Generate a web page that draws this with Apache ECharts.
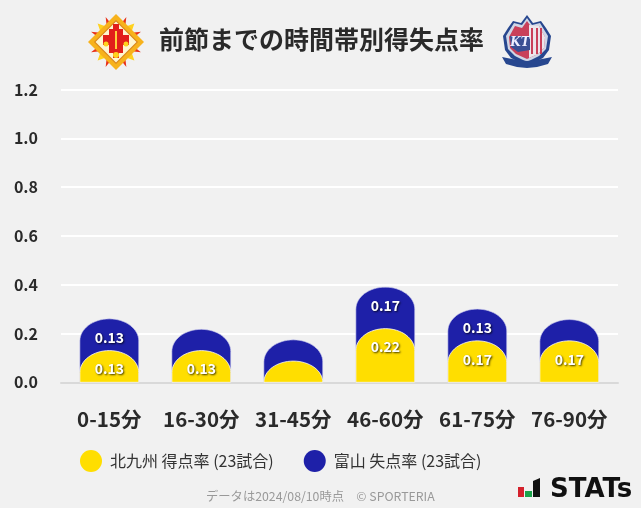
<!DOCTYPE html>
<html><head><meta charset="utf-8">
<style>html,body{margin:0;padding:0;background:#f1f1f1}#c{width:641px;height:508px}</style>
<script src="https://cdn.jsdelivr.net/npm/echarts@6/dist/echarts.min.js"></script>
</head><body><div id="c"></div>
<script>
const categories = ['0-15分','16-30分','31-45分','46-60分','61-75分','76-90分'];
const scoreRate = [0.13,0.13,0.087,0.22,0.17,0.17];
const concedeRate = [0.13,0.087,0.087,0.17,0.13,0.087];
const scoreName = '北九州 得点率 (23試合)';
const concedeName = '富山 失点率 (23試合)';
const titleText = '前節までの時間帯別得失点率';
const footerText = 'データは2024/08/10時点　© SPORTERIA';
const FONT = '"Noto Sans CJK JP","Noto Sans",sans-serif';
const YELLOW = '#ffde00', BLUE = '#1e20a8';

function barRender(labelMin, halo){
  return function(params, api){
    const cx = api.coord([api.value(0),0])[0];
    const top = api.coord([api.value(0),api.value(1)])[1];
    const base = api.coord([api.value(0),0])[1];
    const hw = api.size([1,0])[0]*0.32;
    const ry = Math.min(22, base-top);
    const pts = [[cx-hw,base]];
    for(let k=0;k<=32;k++){
      const a = Math.PI - Math.PI*k/32;
      pts.push([cx+hw*Math.cos(a), top+ry-ry*Math.sin(a)]);
    }
    pts.push([cx+hw,base]);
    const v = api.value(2);
    const children = [{type:'polygon',shape:{points:pts},style:{fill:api.visual('color'),stroke:halo,lineWidth:1}}];
    if(v>=labelMin){
      children.push({type:'text',style:{text:v.toFixed(2),x:cx,y:top+18.5,align:'center',verticalAlign:'middle',
        fill:'#fff',font:'700 14px '+FONT,textShadowColor:'rgba(0,0,0,0.75)',textShadowBlur:2,textShadowOffsetX:1,textShadowOffsetY:1},z2:5});
    }
    return {type:'group',children};
  };
}

function star(cx,cy,R,r,n,rot){
  const p=[];
  for(let i=0;i<n*2;i++){
    const a=rot+i*Math.PI/n, q=i%2?r:R;
    p.push([cx+q*Math.sin(a),cy-q*Math.cos(a)]);
  }
  return p;
}
function logoLeft(){
  const cx=116,cy=42;
  const d=(k)=>[[cx,cy-k],[cx+k,cy],[cx,cy+k],[cx-k,cy]];
  const plus=(x,y,w,h)=>({type:'rect',shape:{x:x,y:y,width:w,height:h},style:{fill:'#e21f1a'}});
  return [
    {type:'polygon',shape:{points:star(cx,cy,27,12,8,Math.PI/8)},style:{fill:'#e8321a'}},
    {type:'polygon',shape:{points:star(cx,cy,26,12,4,Math.PI/4)},style:{fill:'#ffd21e'}},
    {type:'polygon',shape:{points:d(28)},style:{fill:'#f7b21c'}},
    {type:'polygon',shape:{points:d(22)},style:{fill:'#d8831a'}},
    {type:'polygon',shape:{points:d(20.5)},style:{fill:'#fff6d0'}},
    plus(cx-3,cy-18,6,34),
    plus(cx-13,cy-7,26,10),
    plus(cx-7,cy-13,14,24),
    {type:'circle',shape:{cx:cx-10,cy:cy+2,r:2.5},style:{fill:'#ffd21e'}},
    {type:'circle',shape:{cx:cx+10,cy:cy+2,r:2.5},style:{fill:'#ffd21e'}},
    {type:'circle',shape:{cx:cx,cy:cy+13,r:3},style:{fill:'#ffd21e'}},
    {type:'rect',shape:{x:cx-1,y:cy-11,width:2,height:18},style:{fill:'#ffcf3a'}}
  ];
}
function logoRight(){
  const shield=[[527,15],[533,23],[541,21],[546,28],[551,36],[549,50],[543,58],[527,66],[511,58],[505,50],[503,36],[508,28],[513,21],[521,23]];
  const inner=[[527,18],[532,25],[540,23],[548,36],[546,49],[539,56],[527,62],[515,56],[508,49],[506,36],[514,23],[522,25]];
  const red=[[527,21],[532,28],[539,26],[545,37],[544,48],[538,54],[527,59],[516,54],[510,48],[509,37],[515,26],[522,28]];
  const ch=[
    {type:'polygon',shape:{points:shield},style:{fill:'#27478f'}},
    {type:'polygon',shape:{points:inner},style:{fill:'#cfd6e6'}},
    {type:'polygon',shape:{points:red},style:{fill:'#c9405a'}},
    {type:'polygon',shape:{points:[[529,25],[539,26],[545,37],[544,48],[538,54],[529,58]]},style:{fill:'#ece6ec'}}
  ];
  [532,537,541].forEach(x=>ch.push({type:'rect',shape:{x:x-1,y:28,width:2,height:26},style:{fill:'#c9405a'}}));
  ch.push({type:'polygon',shape:{points:[[510,36],[530,36],[530,50],[518,52],[511,47]]},style:{fill:'#3a4f94'}});
  ch.push({type:'text',style:{text:'KT',x:520,y:43,align:'center',verticalAlign:'middle',fill:'#eef',font:'italic 700 12px "DejaVu Serif",serif'}});
  ch.push({type:'polygon',shape:{points:[[502,57],[512,59],[527,61],[542,59],[552,57],[548,64],[537,67],[527,68],[517,67],[506,64]]},style:{fill:'#27478f'}});
  return ch;
}
function logoStats(){
  return [
    {type:'rect',shape:{x:518,y:487,width:6,height:10},style:{fill:'#d4212c'}},
    {type:'rect',shape:{x:525,y:491,width:7,height:6},style:{fill:'#1aa34a'}},
    {type:'polygon',shape:{points:[[533,481],[540,478],[540,497],[533,497]]},style:{fill:'#111'}},
    {type:'text',style:{text:'STATs',x:550,y:503,align:'left',verticalAlign:'bottom',fill:'#111',font:'700 26px "DejaVu Sans",sans-serif'}}
  ];
}

const chart = echarts.init(document.getElementById('c'),null,{renderer:'canvas'});
const yFmt = v => v.toFixed(1);
chart.setOption({
  backgroundColor:'#f1f1f1',
  animation:false,
  textStyle:{fontFamily:FONT},
  legend:{left:75,top:445,itemWidth:22,itemHeight:22,itemGap:30,icon:'circle',selectedMode:false,
    textStyle:{fontSize:16,color:'#333',fontFamily:FONT,padding:[0,0,0,3]},
    data:[{name:scoreName},{name:concedeName}]},
  grid:[
    {left:61,right:23,top:89.5,bottom:125.7},
    {left:63.3,right:25.7,top:89.5,bottom:125.7}
  ],
  xAxis:[
    {gridIndex:0,type:'value',min:0,max:1,axisLabel:{show:false},axisTick:{show:false},splitLine:{show:false},
      axisLine:{show:true,lineStyle:{color:'#d9d9d9',width:2}}},
    {gridIndex:1,type:'category',data:categories,axisTick:{show:false},axisLine:{show:false},
      axisLabel:{color:'#2a2a2a',fontSize:20.5,fontWeight:700,margin:27,fontFamily:FONT,interval:0}}
  ],
  yAxis:[
    {gridIndex:0,type:'value',min:0,max:1.2,interval:0.2,axisLine:{show:false},axisTick:{show:false},
      splitLine:{lineStyle:{color:'#ffffff',width:2}},
      axisLabel:{color:'#2a2a2a',fontSize:16,fontWeight:700,margin:23,fontFamily:FONT,formatter:yFmt,padding:[0,0,6,0]}},
    {gridIndex:1,type:'value',min:0,max:1.2,interval:0.2,show:false,splitLine:{show:false}}
  ],
  series:[
    {name:scoreName,type:'custom',xAxisIndex:1,yAxisIndex:1,z:4,itemStyle:{color:YELLOW},
      encode:{x:0,y:1},renderItem:barRender(0.1,'rgba(255,255,255,0.75)'),
      data:categories.map((c,i)=>[i,scoreRate[i],scoreRate[i]])},
    {name:concedeName,type:'custom',xAxisIndex:1,yAxisIndex:1,z:3,itemStyle:{color:BLUE},
      encode:{x:0,y:1},renderItem:barRender(0.1,'rgba(210,210,240,0.6)'),
      data:categories.map((c,i)=>[i,scoreRate[i]+concedeRate[i],concedeRate[i]])}
  ],
  graphic:[
    {type:'text',left:159,top:27,style:{text:titleText,fill:'#2a2a2a',font:'700 25px '+FONT}},
    {type:'text',left:206,top:490,style:{text:footerText,fill:'#999',font:'12.3px '+FONT}},
    {type:'group',children:logoLeft().concat(logoRight(),logoStats())}
  ]
});
</script></body></html>
